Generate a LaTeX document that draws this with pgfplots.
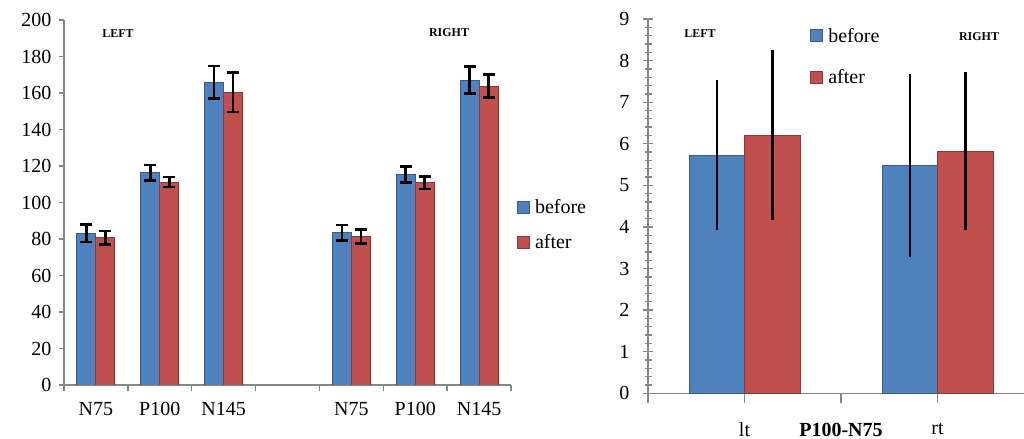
\documentclass[border=0pt]{standalone}
\usepackage{fontspec}
\setmainfont{Liberation Serif}
\usepackage{pgfplots}
\usepackage{pgfplotstable}
\pgfplotsset{compat=1.18}
\definecolor{xlblue}{HTML}{4F81BD}
\definecolor{xlblueE}{HTML}{385D8A}
\definecolor{xlred}{HTML}{C0504D}
\definecolor{xlredE}{HTML}{8C3836}
\definecolor{axgray}{HTML}{868686}
\newcommand\bigf{\fontsize{20bp}{24bp}\selectfont}
\newcommand\smallb{\bfseries\fontsize{12bp}{14bp}\selectfont}

\pgfplotstableread{
x b be a ae
0 83.1 4.8 80.7 3.6
1 116.3 4.2 111.2 2.8
2 165.9 9.0 160.4 10.8
4 83.5 4.2 81.3 3.8
5 115.4 4.4 110.8 3.5
6 167.1 7.5 163.8 6.3
}\lefttab

\pgfplotstableread{
x b be a ae
1 5.73 1.80 6.21 2.04
2 5.47 2.20 5.82 1.90
}\righttab

\pgfplotsset{
  xlbar/.style={
    legend image code/.code={\draw[##1, line width=1bp] (0bp,-6bp) rectangle (12bp,6bp); \path (15bp,0bp);},
  },
}

\begin{document}
\begin{tikzpicture}
% ---------------- left panel ----------------
\begin{axis}[
  at={(64bp,54bp)}, anchor=south west,
  scale only axis, width=447bp, height=365bp,
  xmin=-0.5, xmax=6.5, ymin=0, ymax=200,
  axis x line*=bottom, axis y line*=left,
  axis line style={axgray, line width=1.3bp},
  ytick={0,20,...,200},
  xtick={0,1,2,4,5,6}, xticklabels={N75,P100,N145,N75,P100,N145},
  minor xtick={-0.5,0.5,...,6.5},
  major x tick style={draw=none},
  minor x tick style={axgray, line width=1.3bp},
  y tick style={axgray, line width=1.3bp},
  tick align=outside, major tick length=5bp, minor tick length=6bp,
  tick label style={font=\bigf},
  /pgf/number format/assume math mode=true,
  xticklabel style={yshift=-9bp},
  yticklabel style={xshift=-4bp},
  ybar=0pt, bar width=19bp,
  error bars/y dir=both, error bars/y explicit,
  error bars/error bar style={black, line width=2.5bp},
  error bars/error mark options={rotate=90, black, line width=2.5bp, mark size=6bp},
  xlbar,
  legend style={at={(rel axis cs:1.013,0.515)}, anchor=north west, draw=none, fill=none,
    font=\bigf, row sep=15.5bp, inner sep=0pt},
  legend cell align=left,
]
\addplot[fill=xlblue, draw=xlblueE, line width=1bp] table[x=x, y=b, y error=be] {\lefttab};
\addplot[fill=xlred, draw=xlredE, line width=1bp] table[x=x, y=a, y error=ae] {\lefttab};
\legend{before, after}
\end{axis}
\node[font=\smallb] at (118bp,405bp) {LEFT};
\node[font=\smallb] at (449bp,406bp) {RIGHT};

% ---------------- right panel ----------------
\begin{axis}[
  at={(648bp,45.7bp)}, anchor=south west,
  scale only axis, width=386bp, height=374.3bp,
  xmin=0.5, xmax=2.5, ymin=0, ymax=9,
  axis x line*=bottom, axis y line*=left,
  axis line style={axgray, line width=1.3bp},
  ytick={0,...,9}, minor y tick num=4,
  xtick={0.5,1,1.5,2,2.5}, xticklabels={,lt,,rt,},
  tick style={axgray, line width=1.3bp},
  tick align=center, major tick length=10bp, minor tick length=7bp,
  tick label style={font=\bigf},
  /pgf/number format/assume math mode=true,
  yticklabel style={xshift=-10bp},
  xticklabel style={yshift=-16bp},
  xlabel={P100-N75},
  xlabel style={font=\bigf\bfseries, at={(rel axis cs:0.5,0)}, anchor=north, yshift=-26bp},
  ybar=0pt, bar width=55.5bp,
  error bars/y dir=both, error bars/y explicit,
  error bars/error bar style={black, line width=2.5bp},
  error bars/error mark=none,
  xlbar,
  legend style={at={(rel axis cs:0.42,0.982)}, anchor=north west, draw=none, fill=none,
    font=\bigf, row sep=22bp, inner sep=0pt},
  legend cell align=left,
]
\addplot[fill=xlblue, draw=xlblueE, line width=1bp] table[x=x, y=b, y error=be] {\righttab};
\addplot[fill=xlred, draw=xlredE, line width=1bp] table[x=x, y=a, y error=ae] {\righttab};
\legend{before, after}
\end{axis}
\node[font=\smallb] at (700bp,405bp) {LEFT};
\node[font=\smallb] at (979bp,402bp) {RIGHT};

\pgfresetboundingbox
\useasboundingbox (0,0) rectangle (1024bp,439bp);
\end{tikzpicture}
\end{document}
